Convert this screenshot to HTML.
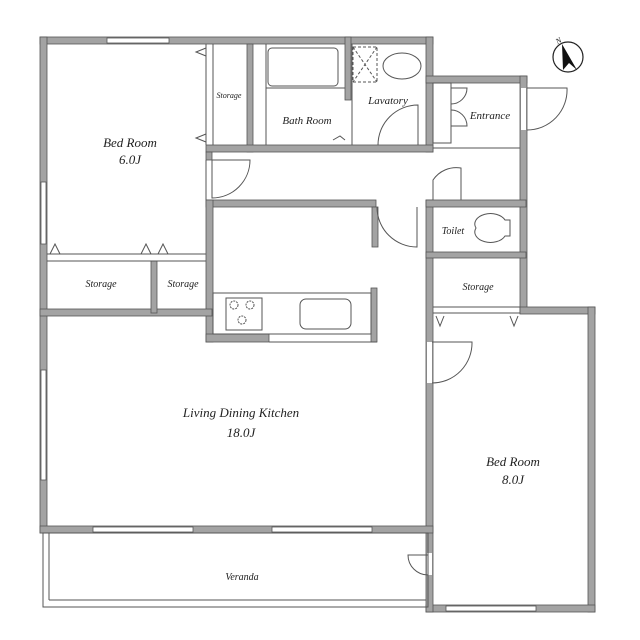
<!DOCTYPE html>
<html><head><meta charset="utf-8"><style>
html,body{margin:0;padding:0;background:#fff}
svg{display:block}
text{font-family:"Liberation Serif",serif;font-style:italic;fill:#222;text-anchor:middle}
.w{fill:#a3a3a3;stroke:#555;stroke-width:0.8}
.t{fill:none;stroke:#555;stroke-width:1}
.win{fill:#fff;stroke:#555;stroke-width:0.8}
</style></head><body>
<svg width="640" height="640" viewBox="0 0 640 640" xmlns="http://www.w3.org/2000/svg">
<!-- outer walls -->
<rect class="w" x="40" y="37" width="393" height="7"/>
<rect class="w" x="40" y="37" width="7" height="496"/>
<rect class="w" x="426" y="37" width="7" height="115"/>
<rect class="w" x="426" y="76" width="101" height="7"/>
<rect class="w" x="520" y="76" width="7" height="237"/>
<rect class="w" x="520" y="307" width="75" height="7"/>
<rect class="w" x="588" y="307" width="7" height="305"/>
<rect class="w" x="426" y="605" width="169" height="7"/>
<rect class="w" x="426" y="200" width="7" height="412"/>
<rect class="w" x="40" y="526" width="393" height="7"/>
<!-- windows -->
<rect class="win" x="107" y="38" width="62" height="5"/>
<rect class="win" x="41" y="182" width="5" height="62"/>
<rect class="win" x="41" y="370" width="5" height="110"/>
<rect class="win" x="93" y="527" width="100" height="5"/>
<rect class="win" x="272" y="527" width="100" height="5"/>
<rect class="win" x="446" y="606" width="90" height="5"/>
<!-- door gaps -->
<rect x="427" y="342" width="5" height="41" fill="#fff"/>
<rect x="427" y="553" width="5" height="22" fill="#fff"/>
<rect x="521" y="88" width="5" height="42" fill="#fff"/>
<!-- interior walls -->
<rect class="w" x="247" y="44" width="6" height="108"/>
<rect class="w" x="345" y="37" width="6" height="63"/>
<rect class="w" x="206" y="145" width="227" height="7"/>
<rect class="w" x="206" y="152" width="6" height="8"/>
<rect class="w" x="206" y="200" width="170" height="7"/>
<rect class="w" x="426" y="200" width="100" height="7"/>
<rect class="w" x="206" y="200" width="7" height="142"/>
<rect class="w" x="206" y="334" width="63" height="8"/>
<rect class="w" x="371" y="288" width="6" height="54"/>
<rect class="w" x="372" y="207" width="6" height="40"/>
<rect class="w" x="40" y="309" width="172" height="7"/>
<rect class="w" x="151" y="261" width="6" height="52"/>
<rect class="w" x="426" y="252" width="100" height="6"/>
<!-- thin lines -->
<g class="t">
<line x1="206" y1="44" x2="206" y2="145"/><line x1="213" y1="44" x2="213" y2="145"/>
<line x1="206" y1="160" x2="206" y2="200"/>
<line x1="266" y1="44" x2="266" y2="145"/>
<rect x="268" y="48" width="70" height="38" rx="4"/>
<line x1="266" y1="88" x2="345" y2="88"/>
<line x1="352" y1="44" x2="352" y2="145"/>
<rect x="353" y="47" width="24" height="35" stroke-dasharray="3,2"/>
<line x1="353" y1="47" x2="377" y2="82" stroke-dasharray="3,2"/><line x1="377" y1="47" x2="353" y2="82" stroke-dasharray="3,2"/>
<ellipse cx="402" cy="66" rx="19" ry="13"/>
<path d="M378 145 A40 40 0 0 1 418 105 L418 145"/>
<path d="M212 160 L212 198 A38 38 0 0 0 250 160 Z"/>
<line x1="433" y1="148" x2="520" y2="148"/>
<rect x="433" y="83" width="18" height="60"/>
<path d="M451 88 L467 88 A16 16 0 0 1 451 104 M451 126 L467 126 A16 16 0 0 0 451 110"/>
<path d="M527 88 L567 88 A40 40 0 0 1 527 130"/>
<path d="M433 200 L433 180 A28 28 0 0 1 461 168 L461 200"/>
<path d="M377 207 A40 40 0 0 0 417 247 L417 207"/>
<path d="M476 228 A12 8 0 0 1 505 220 L510 220 L510 236 L505 236 A12 8 0 0 1 476 228 Z"/>
<line x1="433" y1="307" x2="520" y2="307"/><line x1="433" y1="313" x2="520" y2="313"/>
<path d="M436 316 L440 326 L444 316 M510 316 L514 326 L518 316"/>
<line x1="47" y1="254" x2="206" y2="254"/><line x1="47" y1="261" x2="206" y2="261"/>
<path d="M50 254 L55 244 L60 254 M141 254 L146 244 L151 254 M158 254 L163 244 L168 254"/>
<path d="M206 48 L196 52 L206 56 M206 134 L196 138 L206 142"/>
<path d="M333 140 L340 136 L345 140"/>
<rect x="213" y="293" width="158" height="41"/>
<rect x="226" y="298" width="36" height="32"/>
<circle cx="234" cy="305" r="4" stroke-dasharray="2,1"/><circle cx="250" cy="305" r="4" stroke-dasharray="2,1"/><circle cx="242" cy="320" r="4" stroke-dasharray="2,1"/>
<rect x="300" y="299" width="51" height="30" rx="6"/>
<line x1="269" y1="342" x2="377" y2="342"/>
<path d="M432 342 L472 342 A40 40 0 0 1 432 383"/>
<path d="M428 555 L408 555 A20 20 0 0 0 428 575"/>
<rect x="43" y="533" width="385" height="74"/>
<line x1="49" y1="533" x2="49" y2="600"/><line x1="49" y1="600" x2="426" y2="600"/>
</g>
<!-- compass -->
<circle cx="568" cy="57" r="15" fill="none" stroke="#222" stroke-width="1.2"/>
<path d="M562 44 L577 70 L569 63 L563 70 Z" fill="#111"/>
<text x="560" y="43" font-size="8" font-style="normal" transform="rotate(-30 560 43)">N</text>
<!-- labels -->
<text x="130" y="147" font-size="13">Bed Room</text>
<text x="130" y="164" font-size="13">6.0J</text>
<text x="229" y="98" font-size="8">Storage</text>
<text x="307" y="124" font-size="11">Bath Room</text>
<text x="388" y="104" font-size="11">Lavatory</text>
<text x="490" y="119" font-size="11">Entrance</text>
<text x="453" y="234" font-size="10">Toilet</text>
<text x="478" y="290" font-size="10">Storage</text>
<text x="101" y="287" font-size="10">Storage</text>
<text x="183" y="287" font-size="10">Storage</text>
<text x="241" y="417" font-size="13">Living Dining Kitchen</text>
<text x="241" y="437" font-size="13">18.0J</text>
<text x="513" y="466" font-size="13">Bed Room</text>
<text x="513" y="484" font-size="13">8.0J</text>
<text x="242" y="580" font-size="10">Veranda</text>
</svg>
</body></html>
